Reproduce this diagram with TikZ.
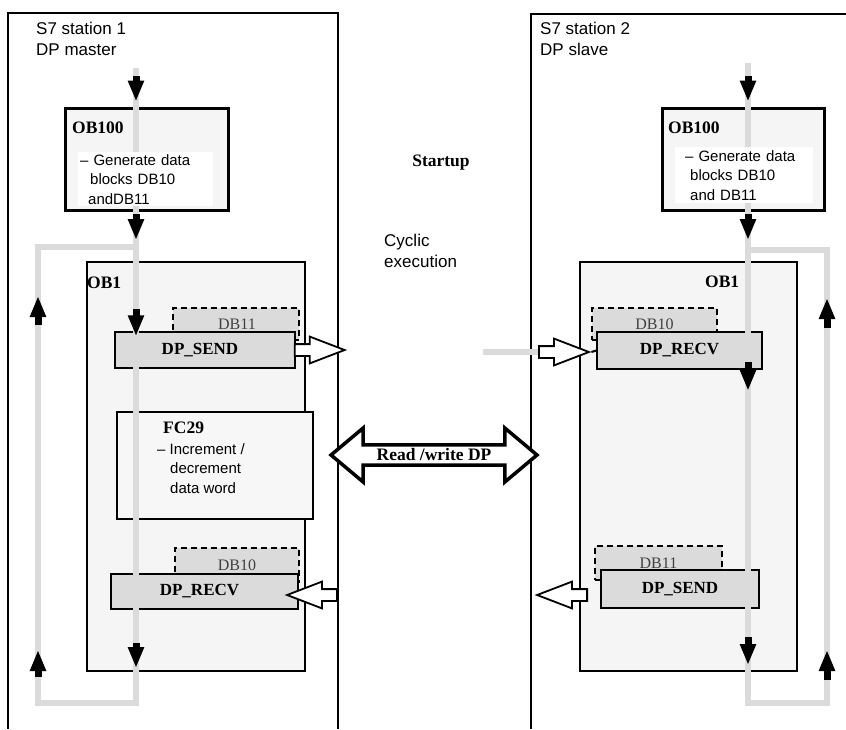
\documentclass[tikz,border=0pt]{standalone}
\usepackage{fontspec}
\setmainfont{Liberation Sans}
\newfontfamily\tmsfont{Liberation Serif}
\usetikzlibrary{shapes, shapes.arrows, arrows.meta, positioning, calc}

\definecolor{flowgray}{gray}{0.86}
\definecolor{obfill}{gray}{0.96}
\definecolor{blkfill}{gray}{0.86}

\begin{document}
\begin{tikzpicture}[x=1pt, y=-1pt,
			lbl/.style={font=\fontsize{17}{21}\selectfont, align=left, inner sep=0pt, anchor=north west},
			hdr/.style={font=\tmsfont\bfseries\fontsize{17.5}{20}\selectfont, inner sep=0pt},
			desc/.style={font=\fontsize{15}{19.5}\selectfont, align=left, inner sep=0pt, anchor=north west},
			obbox/.style={draw, line width=3pt, fill=obfill, inner sep=0pt},
			cycbox/.style={draw, line width=2.5pt, fill=obfill, inner sep=0pt},
			fcbox/.style={draw, line width=2.5pt, fill=black!3, inner sep=0pt},
			dbbox/.style={draw, dash pattern=on 6pt off 4pt, line width=2.5pt, fill=blkfill, inner sep=0pt, text=black!75, font=\tmsfont\fontsize{16}{18}\selectfont},
			fbbox/.style={draw, line width=1.5pt, fill=blkfill, inner sep=0pt, font=\tmsfont\bfseries\fontsize{17}{20}\selectfont},
			flow/.style={flowgray, line width=6pt},
			dn/.style={-{Triangle[width=15pt,length=21pt]}, line width=7pt},
			hollow/.style={single arrow, draw, fill=white, line width=1.8pt, minimum height=50pt, single arrow head extend=7.5pt, single arrow tip angle=42, inner sep=5pt},
			dblarrow/.style={double arrow, draw, fill=white, line width=3.5pt, minimum height=206pt, minimum width=54pt, double arrow head extend=13pt, double arrow tip angle=80, inner sep=0pt, font=\tmsfont\bfseries\fontsize{17.5}{20}\selectfont}
			]
			\useasboundingbox (0,0) rectangle (846,729);
			
			% Stations
			\draw[line width=2pt] (8,729) -- (8,13) -- (338,13) -- (338,729);
			\draw[line width=1.5pt] (531,729) -- (531,14);
			\draw[line width=2pt] (530.25,14) -- (846,14);
			\node[lbl] (st1) at (36,22) {S7 station 1\\DP master};
			\node[lbl] (st2) at (540,22) {S7 station 2\\DP slave};
			
			\node[hdr] (start) at (441,163) {Startup};
			\node[lbl] (cyc) at (384,234) {Cyclic\\execution};
			
			% Flow coordinates
			\coordinate (lin) at (136,68);
			\coordinate (ltr) at (136,247);
			\coordinate (lbr) at (136,703);
			\coordinate (lbl) at (38,703);
			\coordinate (ltl) at (38,247);
			\coordinate (rin) at (748,63);
			\coordinate (rtl) at (748,250);
			\coordinate (rbl) at (748,703);
			\coordinate (rbr) at (827,703);
			\coordinate (rtr) at (827,250);
			\coordinate (dpin) at (483,352);
			
			% Station 1 blocks
			\node[obbox, minimum width=163, minimum height=102] (ob100l) at (146.5,159) {};
			\node[cycbox, minimum width=218, minimum height=409] (ob1l) at (196,466.5) {};
			\node[dbbox, minimum width=126, minimum height=32] (db11l) at (236,324) {\hspace*{2pt}DB11};
			\node[fbbox, minimum width=180, minimum height=36] (sendl) at (205,350) {\hspace*{-10pt}DP\_SEND};
			\node[fcbox, minimum width=196, minimum height=107] (fc29) at (215,465.5) {};
			\node[dbbox, minimum width=124, minimum height=34] (db10l) at (237,565) {DB10};
			\node[fbbox, minimum width=187, minimum height=35] (recvl) at (204.5,591.5) {\hspace*{-10pt}DP\_RECV};
			
			% Station 2 blocks
			\node[obbox, minimum width=162, minimum height=102] (ob100r) at (743,159) {};
			\node[cycbox, minimum width=217, minimum height=409] (ob1r) at (688.5,466.5) {};
			\node[dbbox, minimum width=125, minimum height=32] (db10r) at (654.5,324) {DB10};
			\node[fbbox, minimum width=165, minimum height=37] (recvr) at (679.5,350.5) {DP\_RECV};
			\node[dbbox, minimum width=127, minimum height=34] (db11r) at (658.5,563) {DB11};
			\node[fbbox, minimum width=158, minimum height=38] (sendr) at (680,589) {DP\_SEND};
			
			% Gray flow
			\draw[flow] (lin) -- (ltr);
			\draw[flow, line join=miter] (ltr) -- (lbr) -- (lbl) -- (ltl) -- cycle;
			\draw[flow] (rin) -- (rtl);
			\draw[flow, line join=miter] (rtl) -- (rbl) -- (rbr) -- (rtr) -- cycle;
			\draw[flow] (dpin) -- (538,352);
			
			% Texts in the blocks
			\node[desc, fill=white, text width=131, minimum height=53, inner xsep=2pt, inner ysep=2pt] (ob100ltx) at (78,152) {-- Generate data\\\hspace*{10pt}blocks DB10\\\hspace*{8pt}andDB11};
			\node[hdr, anchor=west] (ob100lh) at (72,128) {OB100};
			\node[desc, fill=white, text width=130, minimum height=56, inner xsep=4pt, inner ysep=2pt] (ob100rtx) at (675,147) {\hspace*{6pt}-- Generate data\\\hspace*{11pt}blocks DB10\\\hspace*{11pt}and DB11};
			\node[hdr, anchor=west] (ob100rh) at (668,128) {OB100};
			\node[hdr, anchor=west] (ob1lh) at (87,283) {OB1};
			\node[hdr, anchor=west] (ob1rh) at (705,282) {OB1};
			\node[hdr, anchor=west] (fc29h) at (163,428) {FC29};
			\node[desc] (fc29tx) at (157,443) {-- Increment /\\\hspace*{13pt}decrement\\\hspace*{13pt}data word};
			
			% Arrows
			\draw[dn] ($(lin)+(0,8)$) -- ($(lin |- ob100l.north)+(0,-5)$);
			\draw[dn] ($(lin |- ob100l.south)+(0,2)$) -- ($(lin)+(0,172)$);
			\draw[dn] ($(lin |- sendl.north)+(0,-22)$) -- ($(lin |- sendl.north)+(0,5)$);
			\draw[dn] ($(lbr)+(0,-60)$) -- ($(lbr)+(0,-35)$);
			\draw[dn] ($(ltl)+(0,78)$) -- ($(ltl)+(0,49)$);
			\draw[dn] ($(lbl)+(0,-26)$) -- ($(lbl)+(0,-53)$);
			\draw[dn] ($(rin)+(0,13)$) -- ($(rin |- ob100r.north)+(0,-5)$);
			\draw[dn] ($(rin |- ob100r.south)+(0,2)$) -- ($(rin)+(0,177)$);
			\draw[dn] ($(rtl |- recvr.south)+(0,-8)$) -- ($(rtl |- recvr.south)+(0,21)$);
			\draw[dn] ($(rbl)+(0,-66)$) -- ($(rbl)+(0,-38)$);
			\draw[dn] ($(rtr)+(0,78)$) -- ($(rtr)+(0,48)$);
			\draw[dn] ($(rbr)+(0,-23)$) -- ($(rbr)+(0,-53)$);
			
			\node[hollow, right=-2pt of sendl.east, anchor=tail] (outl) {};
			\node[hollow, shape border rotate=180, anchor=tail] (inl) at (338,595) {};
			\node[hollow, anchor=tail] (inr) at (538,352) {};
			\node[hollow, shape border rotate=180, anchor=tail] (outr) at (588,595) {};
			\draw[line width=2pt] (inr.tip) -- (recvr.west);
			
			\node[dblarrow] (rw) at (434,455) {\raisebox{-5pt}{Read /write DP}};
			
		\end{tikzpicture}
\end{document}
